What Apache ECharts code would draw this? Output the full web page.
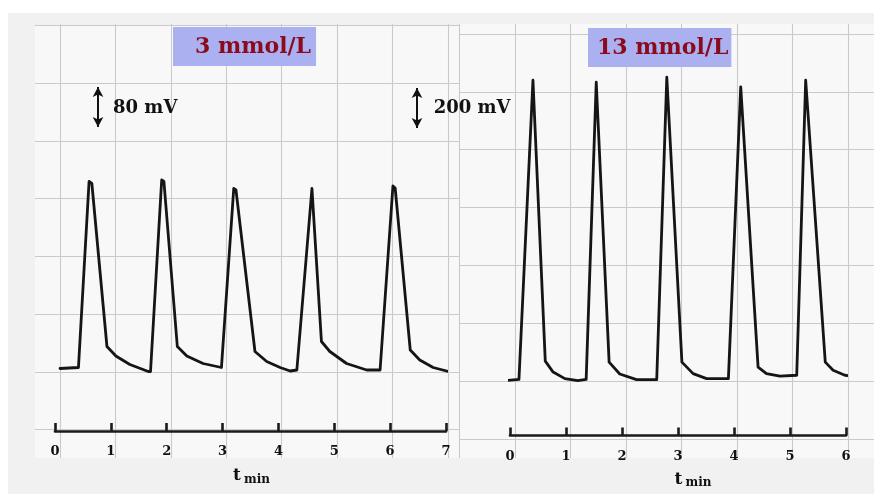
<!DOCTYPE html>
<html>
<head>
<meta charset="utf-8">
<script src="https://cdn.jsdelivr.net/npm/echarts@6/dist/echarts.min.js"></script>
<style>
  html, body { margin: 0; padding: 0; background: #ffffff; }
  #chart { width: 874px; height: 494px; }
</style>
</head>
<body>
<div id="chart"></div>
<script>
// Time tick labels (minutes) for each recording
const leftTicks = [0, 1, 2, 3, 4, 5, 6, 7];
const rightTicks = [0, 1, 2, 3, 4, 5, 6];

// Recording at 3 mmol/L: time (min) and potential (mV, relative to baseline)
const leftTime = [0.09, 0.42, 0.61, 0.66, 0.93, 1.09, 1.34, 1.67, 1.71, 1.91, 1.95, 2.19, 2.36, 2.65, 2.98, 3.00, 3.20, 3.24, 3.58, 3.79,
                  4.03, 4.21, 4.33, 4.34, 4.60, 4.63, 4.77, 4.92, 5.22, 5.58, 5.82, 5.83, 6.05, 6.09, 6.36, 6.53, 6.77, 7.04];
const leftMv   = [5, 7, 379, 375, 49, 30, 13, -1, -1, 382, 379, 49, 30, 15, 7, 7, 365, 362, 39, 19,
                  7, 0, 2, 2, 365, 363, 59, 39, 15, 2, 2, 2, 370, 366, 42, 22, 7, -1];

// Recording at 13 mmol/L
const rightTime = [-0.18, 0.16, 0.41, 0.44, 0.63, 0.77, 0.98, 1.21, 1.36, 1.54, 1.57, 1.77, 1.96, 2.26, 2.62, 2.65, 2.80, 2.83,
                   3.07, 3.27, 3.51, 3.90, 3.92, 4.12, 4.15, 4.43, 4.58, 4.82, 5.12, 5.15, 5.28, 5.31, 5.63, 5.77, 5.98, 6.31];
const rightMv   = [-5, 3, 1512, 1505, 95, 40, 7, -3, 3, 1502, 1495, 90, 30, 2, 2, 3, 1527, 1520,
                   90, 32, 7, 7, 8, 1479, 1473, 65, 32, 19, 24, 25, 1512, 1505, 90, 49, 24, 15];

// Panel titles and calibration bars
const leftTitle = '3 mmol/L';
const rightTitle = '13 mmol/L';
const leftScaleMv = 80;
const rightScaleMv = 200;
const leftScaleAt = { x: 0.77, from: 488, labelX: 1.03, labelMv: 526 };     // on the 3 mmol/L axes
const rightScaleAt = { x: 0.425, from: 1275, labelX: 0.83, labelMv: 1375 }; // on the small calibration axes

const ink = '#151515';
const serif = 'DejaVu Serif';
const paperLine = { color: '#cacaca', width: 1.1 };

const zip = (a, b) => a.map((v, i) => [v, b[i]]);

// chart-recorder paper: separate grids for the ruled columns and rows
function paperAxis(gridIndex, opts, lines) {
  return Object.assign({
    gridIndex, type: 'value', interval: 1,
    axisLine: { show: false }, axisTick: { show: false }, axisLabel: { show: false },
    splitLine: lines ? Object.assign({ show: true, lineStyle: paperLine }, lines) : { show: false }
  }, opts);
}

function timeAxis(gridIndex, ticks, labelMargin, nameGap, namePad) {
  return {
    gridIndex, type: 'value', min: ticks[0], max: ticks[ticks.length - 1], interval: 1,
    axisLine: { show: true, onZero: false, lineStyle: { color: '#1a1a1a', width: 2.6 } },
    axisTick: { show: true, inside: true, length: 8, lineStyle: { color: '#1a1a1a', width: 2.6 } },
    axisLabel: {
      show: true, margin: labelMargin, color: '#111', fontFamily: serif, fontWeight: 'bold', fontSize: 13,
      formatter: v => ticks.includes(v) ? String(v) : ''
    },
    splitLine: { show: false },
    name: '{t|t} {s|min}', nameLocation: 'middle', nameGap: nameGap,
    nameTextStyle: {
      padding: namePad,
      rich: {
        t: { fontFamily: serif, fontWeight: 'bold', fontSize: 17, color: '#111', lineHeight: 20 },
        s: { fontFamily: serif, fontWeight: 'bold', fontSize: 12, color: '#111', lineHeight: 20, padding: [7, 0, 0, 0] }
      }
    }
  };
}

function trace(axisIndex, data) {
  return {
    type: 'line', xAxisIndex: axisIndex, yAxisIndex: axisIndex, data,
    showSymbol: false, symbol: 'none', clip: false, silent: true,
    lineStyle: { color: ink, width: 2.8, join: 'round', cap: 'round' }
  };
}

// vertical double-headed calibration arrow with its mV label
function calibration(axisIndex, at, mv) {
  return {
    type: 'line', xAxisIndex: axisIndex, yAxisIndex: axisIndex,
    data: [[at.x, at.from], [at.x, at.from + mv]],
    showSymbol: false, symbol: 'none', silent: true, lineStyle: { opacity: 0 },
    markLine: {
      silent: true, symbol: ['arrow', 'arrow'], symbolSize: [8, 10],
      lineStyle: { color: '#111', width: 2, type: 'solid' },
      label: { show: false },
      data: [[{ coord: [at.x, at.from] }, { coord: [at.x, at.from + mv] }]]
    },
    markPoint: {
      silent: true, symbol: 'circle', symbolSize: 1, itemStyle: { color: 'transparent' },
      label: { show: true, position: 'right', distance: 0, formatter: mv + ' mV',
               fontFamily: serif, fontWeight: 'bold', fontSize: 18, color: '#111' },
      data: [{ coord: [at.labelX, at.labelMv] }]
    }
  };
}

const titleText = { color: '#8a0c1c', fontFamily: serif, fontWeight: 'bold', fontSize: 22, lineHeight: 24 };

const option = {
  animation: false,
  backgroundColor: '#f1f1f1',
  title: [
    { text: leftTitle, left: 173, top: 27, backgroundColor: '#aab0f0', padding: [8, 5, 7, 22], textStyle: titleText },
    { text: rightTitle, left: 588, top: 28, backgroundColor: '#aab0f0', padding: [8, 3, 7, 9], textStyle: titleText }
  ],
  graphic: [
    { type: 'rect', left: 0, top: 0, z: 100, silent: true, shape: { width: 874, height: 13 }, style: { fill: '#ffffff' } },
    { type: 'rect', left: 0, top: 0, z: 100, silent: true, shape: { width: 8, height: 494 }, style: { fill: '#ffffff' } }
  ],
  grid: [
    { left: 4.57, top: 24, width: 455.43, height: 434, show: false },                                     // left paper columns
    { left: 35, top: 25.5, width: 424.5, height: 432.5, show: true, backgroundColor: '#f8f8f8', borderWidth: 0 }, // left paper rows
    { left: 459.5, top: 24, width: 414.5, height: 434, show: true, backgroundColor: '#f8f8f8', borderWidth: 0 }, // right paper columns
    { left: 459.5, top: 34, width: 414.5, height: 424, show: false },                                    // right paper rows
    { left: 55, top: 31, width: 391, height: 400, show: false },                                         // 3 mmol/L trace
    { left: 510, top: 39, width: 336, height: 400, show: false },                                        // 13 mmol/L trace
    { left: 400, top: 39, width: 40, height: 400, show: false }                                          // 13 mmol/L calibration
  ],
  xAxis: [
    paperAxis(0, { min: 0, max: 8.216 }, { showMinLine: false, showMaxLine: false }),
    paperAxis(1, { min: 0, max: 1 }, null),
    paperAxis(2, { min: 0, max: 7.468 }, { showMaxLine: false }),
    paperAxis(3, { min: 0, max: 1 }, null),
    timeAxis(4, leftTicks, 14, 35, [0, 0, 0, 2]),
    timeAxis(5, rightTicks, 15, 34, [0, 0, 0, 30]),
    { gridIndex: 6, type: 'value', min: 0, max: 1, show: false }
  ],
  yAxis: [
    paperAxis(0, { min: 0, max: 1 }, null),
    paperAxis(1, { min: 0, max: 7.49, inverse: true }, { showMaxLine: false }),
    paperAxis(2, { min: 0, max: 1 }, null),
    paperAxis(3, { min: 0, max: 7.33, inverse: true }, { showMaxLine: false }),
    { gridIndex: 4, type: 'value', min: -120, max: 680, show: false },
    { gridIndex: 5, type: 'value', min: -280, max: 1720, show: false },
    { gridIndex: 6, type: 'value', min: -280, max: 1720, show: false }
  ],
  series: [
    trace(4, zip(leftTime, leftMv)),
    trace(5, zip(rightTime, rightMv)),
    calibration(4, leftScaleAt, leftScaleMv),
    calibration(6, rightScaleAt, rightScaleMv)
  ]
};

const chart = echarts.init(document.getElementById('chart'), null, { renderer: 'canvas' });
chart.setOption(option);
</script>
</body>
</html>
